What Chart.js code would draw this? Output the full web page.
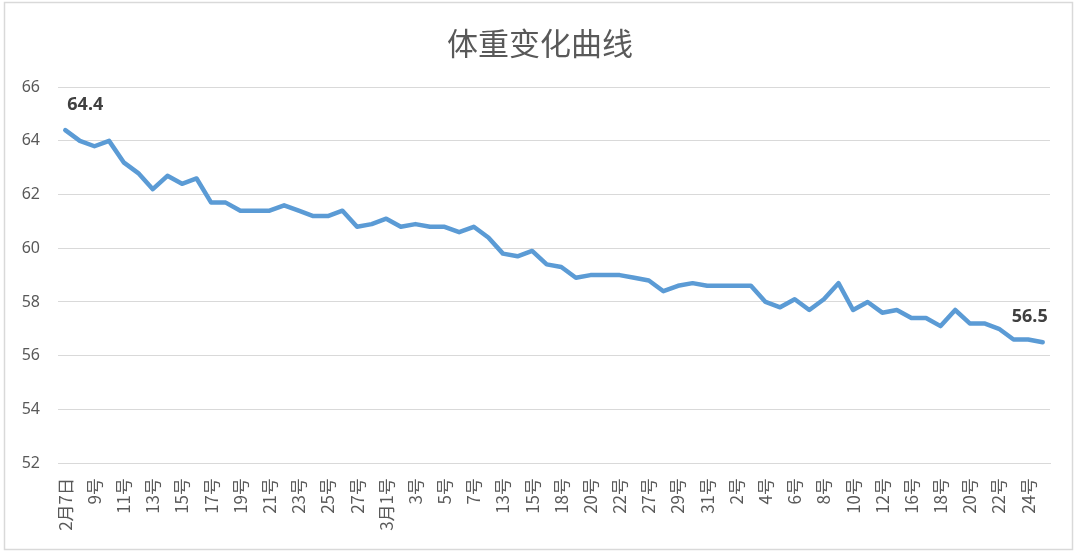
<!DOCTYPE html>
<html>
<head>
<meta charset="utf-8">
<script src="https://cdn.jsdelivr.net/npm/chart.js@4"></script>
<style>
  html, body { margin: 0; padding: 0; background: #ffffff; }
  #wrap { position: relative; width: 1080px; height: 557px; }
</style>
</head>
<body>
<div id="wrap"><canvas id="weightChart" width="1080" height="557"></canvas></div>
<script>
// Data
const titleText = '体重变化曲线';

const dayLabels = [
    '2月7日', '8号', '9号', '10号', '11号', '12号', '13号', '14号', '15号', '16号',
    '17号', '18号', '19号', '20号', '21号', '22号', '23号', '24号', '25号', '26号',
    '27号', '28号', '3月1号', '2号', '3号', '4号', '5号', '6号', '7号', '10号',
    '13号', '14号', '15号', '16号', '18号', '19号', '20号', '21号', '22号', '25号',
    '27号', '28号', '29号', '30号', '31号', '4月1号', '2号', '3号', '4号', '5号',
    '6号', '7号', '8号', '9号', '10号', '11号', '12号', '14号', '16号', '17号',
    '18号', '19号', '20号', '21号', '22号', '23号', '24号', '25号'
];

const weights = [
    64.4, 64.0, 63.8, 64.0, 63.2, 62.8, 62.2, 62.7, 62.4, 62.6,
    61.7, 61.7, 61.4, 61.4, 61.4, 61.6, 61.4, 61.2, 61.2, 61.4,
    60.8, 60.9, 61.1, 60.8, 60.9, 60.8, 60.8, 60.6, 60.8, 60.4,
    59.8, 59.7, 59.9, 59.4, 59.3, 58.9, 59.0, 59.0, 59.0, 58.9,
    58.8, 58.4, 58.6, 58.7, 58.6, 58.6, 58.6, 58.6, 58.0, 57.8,
    58.1, 57.7, 58.1, 58.7, 57.7, 58.0, 57.6, 57.7, 57.4, 57.4,
    57.1, 57.7, 57.2, 57.2, 57.0, 56.6, 56.6, 56.5
];

const yMin = 52;
const yMax = 66;
const yStep = 2;

// Colors
const lineColor = '#5b9bd5';
const textColor = '#595959';
const gridColor = '#d9d9d9';
const labelColor = '#404040';

// Light frame around the whole chart
const chartFrame = {
    id: 'chartFrame',
    beforeDraw(chart) {
        const ctx = chart.ctx;
        ctx.save();
        ctx.strokeStyle = gridColor;
        ctx.lineWidth = 1.5;
        ctx.strokeRect(4.5, 2.5, 1068, 547);
        ctx.restore();
    }
};

// Labels on first and last point only
const endLabels = {
    id: 'endLabels',
    afterDatasetsDraw(chart) {
        const ctx = chart.ctx;
        const pts = chart.getDatasetMeta(0).data;
        const first = pts[0];
        const last = pts[pts.length - 1];
        ctx.save();
        ctx.font = 'bold 18px "Noto Sans", "Liberation Sans", sans-serif';
        ctx.fillStyle = labelColor;
        ctx.textBaseline = 'middle';
        ctx.textAlign = 'left';
        ctx.fillText(weights[0].toFixed(1), first.x + 2, first.y - 25);
        ctx.textAlign = 'right';
        ctx.fillText(weights[weights.length - 1].toFixed(1), last.x + 5, last.y - 25);
        ctx.restore();
    }
};

const ctx = document.getElementById('weightChart').getContext('2d');
const weightChart = new Chart(ctx, {
    type: 'line',
    data: {
        labels: dayLabels,
        datasets: [{
            label: '体重',
            data: weights,
            borderColor: lineColor,
            borderWidth: 4.5,
            borderJoinStyle: 'round',
            borderCapStyle: 'round',
            pointRadius: 0,
            tension: 0,
            fill: false
        }]
    },
    options: {
        responsive: false,
        animation: false,
        layout: { padding: { left: 15, right: 15, top: 0, bottom: 0 } },
        plugins: {
            legend: { display: false },
            tooltip: { enabled: false },
            title: {
                display: true,
                text: titleText,
                color: textColor,
                font: { family: '"Noto Sans CJK SC", sans-serif', size: 31, weight: 'normal' },
                padding: { top: 25, bottom: 25 }
            }
        },
        scales: {
            x: {
                offset: true,
                grid: { display: false, drawTicks: false },
                border: { display: true, color: gridColor },
                ticks: {
                    autoSkip: false,
                    minRotation: 90,
                    maxRotation: 90,
                    padding: 15,
                    color: textColor,
                    font: { family: '"Noto Sans CJK SC", sans-serif', size: 17 },
                    callback: (v, i) => (i % 2 === 0 ? dayLabels[i] : '')
                },
                afterFit: (scale) => { scale.height = 94; }
            },
            y: {
                min: yMin,
                max: yMax,
                grid: { color: gridColor, lineWidth: 1, drawTicks: false },
                border: { display: false },
                ticks: {
                    stepSize: yStep,
                    padding: 18,
                    color: textColor,
                    font: { family: '"Noto Sans", "Liberation Sans", sans-serif', size: 16 }
                },
                afterFit: (scale) => { scale.width = 43; }
            },
            // empty right axis, keeps the plot 30px from the right edge
            yRight: {
                position: 'right',
                min: yMin,
                max: yMax,
                grid: { display: false, drawTicks: false },
                border: { display: false },
                ticks: { display: false },
                afterFit: (scale) => { scale.width = 15; }
            }
        }
    },
    plugins: [chartFrame, endLabels]
});
</script>
</body>
</html>
